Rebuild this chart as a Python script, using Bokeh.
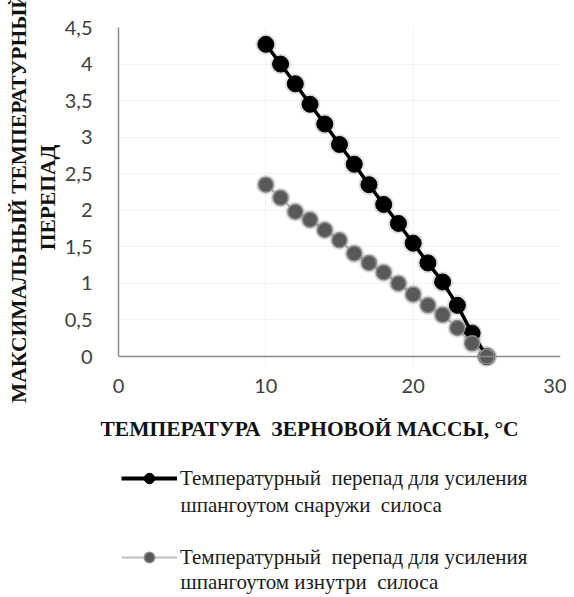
from bokeh.plotting import figure
from bokeh.models import Range1d, FixedTicker, Legend, LegendItem, LinearAxis, Label, Title
from bokeh.layouts import column
from bokeh.embed import file_html
from bokeh.resources import INLINE

# ---- data ----
temps = [10, 11, 12, 13, 14, 15, 16, 17, 18, 19, 20, 21, 22, 23, 24, 25]
outside = [4.27, 4.00, 3.73, 3.45, 3.18, 2.90, 2.63, 2.35, 2.08, 1.82, 1.55, 1.28, 1.02, 0.70, 0.32, 0.00]
inside = [2.35, 2.17, 1.98, 1.87, 1.73, 1.59, 1.41, 1.28, 1.15, 1.00, 0.85, 0.70, 0.57, 0.39, 0.18, 0.00]
x_ticks = [0, 10, 20, 30]
y_ticks = [0, 0.5, 1, 1.5, 2, 2.5, 3, 3.5, 4, 4.5]
y_tick_labels = ["0", "0,5", "1", "1,5", "2", "2,5", "3", "3,5", "4", "4,5"]
legend_line1 = "Температурный  перепад для усиления"
legend_line2_outside = "шпангоутом снаружи  силоса"
legend_line2_inside = "шпангоутом изнутри  силоса"
x_title = "ТЕМПЕРАТУРА  ЗЕРНОВОЙ МАССЫ, °С"
y_title = "МАКСИМАЛЬНЫЙ ТЕМПЕРАТУРНЫЙ\nПЕРЕПАД"

SERIF = "Liberation Serif"
SANS = "Lato"


def keep_spaces(s):
    # keep double spaces visible in SVG text
    return s.replace("  ", "\u00a0 ")


# ---------------- chart ----------------
p = figure(width=566, height=407, x_range=Range1d(0, 30), y_range=Range1d(-0.15, 4.5),
           output_backend="svg", toolbar_location=None,
           min_border_left=118, min_border_top=27, min_border_right=6, min_border_bottom=40)
p.outline_line_color = None

p.xgrid.grid_line_color = "#f2f2f2"
p.ygrid.grid_line_color = "#f2f2f2"
p.xgrid.bounds = (0, 4.5)
p.ygrid.bounds = (0, 30)
p.xgrid.ticker = FixedTicker(ticks=x_ticks)
p.ygrid.ticker = FixedTicker(ticks=y_ticks)

# x axis line at y = 0
xa = p.xaxis[0]
xa.fixed_location = 0
xa.ticker = FixedTicker(ticks=[])
xa.axis_line_color = "#8c8c8c"
xa.axis_line_width = 1.5
xa.major_tick_line_color = None
xa.minor_tick_line_color = None
xa.major_label_standoff = 0

# x tick labels
xb = LinearAxis(ticker=FixedTicker(ticks=x_ticks))
xb.axis_line_color = None
xb.major_tick_line_color = None
xb.minor_tick_line_color = None
xb.major_label_text_font = SANS
xb.major_label_text_font_size = "20px"
xb.major_label_text_color = "#404040"
xb.major_label_standoff = 5
p.add_layout(xb, "below")

# y axis
ya = p.yaxis[0]
ya.ticker = FixedTicker(ticks=y_ticks)
ya.major_label_overrides = {t: l for t, l in zip(y_ticks, y_tick_labels)}
ya.bounds = (0, 4.5)
ya.axis_line_color = "#8c8c8c"
ya.axis_line_width = 1.5
ya.major_tick_line_color = None
ya.minor_tick_line_color = None
ya.major_label_text_font = SANS
ya.major_label_text_font_size = "20px"
ya.major_label_text_color = "#404040"
ya.major_label_standoff = 20
ya.axis_label = y_title
ya.axis_label_text_font = SERIF
ya.axis_label_text_font_style = "bold"
ya.axis_label_text_font_size = "21.5px"
ya.axis_label_text_color = "#111111"
ya.axis_label_standoff = 2

# series
p.line(temps, outside, line_color="black", line_width=3.5)
p.scatter(temps, outside, size=21, fill_color="black", fill_alpha=0.12, line_color=None)
p.scatter(temps, outside, size=16, fill_color="black", line_color="black")
p.line(temps, inside, line_color="#bfbfbf", line_width=2)
p.scatter(temps, inside, size=20, fill_color="black", fill_alpha=0.12, line_color=None)
p.scatter(temps, inside, size=15, fill_color="#595959", line_color="#8c8c8c", line_width=1.5)

# ---------------- title + legend ----------------
q = figure(width=566, height=188, x_range=Range1d(100, 200), y_range=Range1d(100, 200),
           output_backend="svg", toolbar_location=None,
           x_axis_location=None, y_axis_location=None,
           min_border_left=0, min_border_right=0, min_border_top=33, min_border_bottom=0)
q.outline_line_color = None
q.grid.visible = False

q.add_layout(Title(text=keep_spaces(x_title), align="left", offset=-18, standoff=0,
                   text_font=SERIF, text_font_style="bold", text_font_size="21.5px",
                   text_color="#111111"), "above")

# legend renderers (same data; lie outside this panel's ranges)
l1 = q.line(temps, outside, line_color="black", line_width=4)
s1 = q.scatter(temps, outside, size=14, fill_color="black", line_color="black")
l2 = q.line(temps, inside, line_color="#bfbfbf", line_width=2)
s2 = q.scatter(temps, inside, size=13, fill_color="#595959", line_color="#8c8c8c", line_width=1.5)

legend = Legend(items=[LegendItem(label=keep_spaces(legend_line1), renderers=[l1, s1]),
                       LegendItem(label=keep_spaces(legend_line1), renderers=[l2, s2])],
                location=(3, 25), orientation="vertical",
                label_text_font=SERIF, label_text_font_size="21px", label_text_color="#1a1a1a",
                label_text_baseline="middle",
                glyph_width=56, glyph_height=26, label_height=26, label_standoff=3, spacing=53,
                margin=0, padding=0, border_line_color=None, background_fill_alpha=0)
q.add_layout(legend)

for txt, yy in ((legend_line2_outside, 91), (legend_line2_inside, 14)):
    q.add_layout(Label(x=62, y=yy, x_units="screen", y_units="screen", text=keep_spaces(txt),
                       text_font=SERIF, text_font_size="21px", text_color="#1a1a1a",
                       text_baseline="middle"))

open("out.html", "w").write(file_html(column(p, q, spacing=0), INLINE))
